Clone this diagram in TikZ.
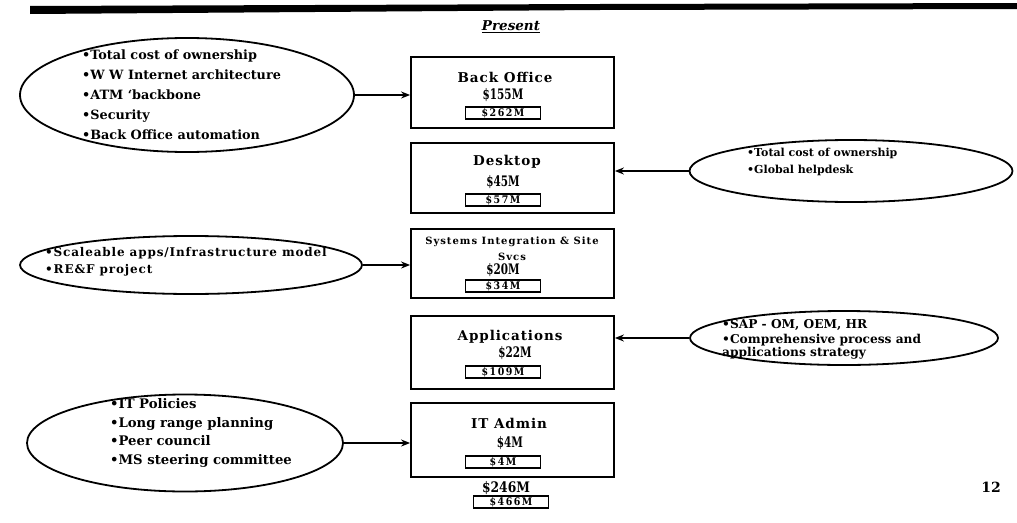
\documentclass[tikz,border=0pt]{standalone}
\usepackage{graphicx}
\usepackage{fontspec}
\setmainfont{DejaVu Serif}
\newfontfamily\numfont{DejaVu Serif Condensed}
\newcommand{\amtxt}[1]{\scalebox{0.72}[1]{#1}}
\newcommand{\totxt}[1]{\scalebox{0.85}[1]{#1}}
\usetikzlibrary{shapes.geometric,arrows.meta}
\begin{document}
\begin{tikzpicture}[x=1pt,y=-1pt,
  font=\bfseries,
  box/.style={draw,line width=1.8pt,minimum width=203pt,inner sep=0pt},
  ttl/.style={font=\fontsize{13.5}{14}\selectfont\bfseries\addfontfeatures{LetterSpace=7},inner sep=0pt},
  amt/.style={font=\fontsize{14.5}{15}\selectfont\bfseries,inner sep=0pt},
  inbox/.style={draw,line width=1.6pt,minimum width=75pt,minimum height=12.5pt,inner sep=0pt,font=\numfont\fontsize{10.5}{10}\selectfont\bfseries\addfontfeatures{LetterSpace=14}},
  oval/.style={draw,ellipse,line width=1.8pt,inner sep=0pt},
  lst/.style={anchor=west,align=left,inner sep=0pt},
  arr/.style={line width=1.8pt,-{Stealth[length=9pt,width=7pt]}}
]
\useasboundingbox (0,0) rectangle (1017,522);

% top rule
\fill (30,6) -- (600,4) -- (1017,3) -- (1017,9) -- (600,10) -- (30,14) -- cycle;

% title
\node[inner sep=0pt,font=\fontsize{13.5}{14}\selectfont\bfseries\itshape] (title) at (511,27) {\underline{Present}};

% boxes
\node[box,minimum height=71pt] (bo) at (512.5,92.5) {};
\node[box,minimum height=70pt] (dt) at (512.5,178) {};
\node[box,minimum height=69pt] (si) at (512.5,263.5) {};
\node[box,minimum height=73pt] (ap) at (512.5,352.5) {};
\node[box,minimum height=74pt] (ia) at (512.5,440) {};

% box texts
\node[ttl] (boT) at (505,77) {Back Office};
\node[amt] (boA) at (503,95) {\amtxt{\$155M}};
\node[inbox] (boI) at (503,113) {\$262M};

\node[ttl] (dtT) at (507,162) {Desktop};
\node[amt] (dtA) at (503,182) {\amtxt{\$45M}};
\node[inbox] (dtI) at (503,200) {\$57M};

\node[inner sep=0pt,align=center,font=\fontsize{10}{16}\selectfont\bfseries\addfontfeatures{LetterSpace=10}] (siT) at (512,249) {Systems Integration \& Site\\Svcs};
\node[amt] (siA) at (503,270) {\amtxt{\$20M}};
\node[inbox] (siI) at (503,286) {\$34M};

\node[ttl] (apT) at (510,337) {Applications};
\node[amt] (apA) at (515,353) {\amtxt{\$22M}};
\node[inbox] (apI) at (503,372) {\$109M};

\node[ttl] (iaT) at (509,423) {IT Admin};
\node[amt] (iaA) at (510,443) {\amtxt{\$4M}};
\node[inbox] (iaI) at (503,462) {\$4M};

\node[amt] (totA) at (506,488) {\totxt{\$246M}};
\node[inbox] (totI) at (511,502) {\$466M};

% ovals
\node[oval,minimum width=334pt,minimum height=114pt] (e1) at (187,95) {};
\node[oval,minimum width=323pt,minimum height=62pt] (e2) at (851,171) {};
\node[oval,minimum width=342pt,minimum height=58pt] (e3) at (191,265) {};
\node[oval,minimum width=308pt,minimum height=54pt] (e4) at (844,338) {};
\node[oval,minimum width=316pt,minimum height=97pt] (e5) at (185,443) {};

% oval texts
\node[lst,font=\fontsize{12.8}{20}\selectfont\bfseries] (t1) at (82,95) {•Total cost of ownership\\•W W Internet architecture\\•ATM `backbone\\•Security\\•Back Office automation};
\node[lst,font=\fontsize{11}{17}\selectfont\bfseries] (t2) at (747,161.5) {•Total cost of ownership\\•Global helpdesk};
\node[lst,font=\fontsize{12}{17}\selectfont\bfseries\addfontfeatures{LetterSpace=7}] (t3) at (45,261.5) {•Scaleable apps/Infrastructure model\\•RE\&F project};
\node[lst,font=\fontsize{12.2}{12}\selectfont\bfseries] (t4a) at (722,325) {•SAP - OM, OEM, HR};
\node[lst,font=\fontsize{12.2}{11.5}\selectfont\bfseries] (t4b) at (722,347) {•Comprehensive process and\\applications strategy};
\node[lst,font=\fontsize{13.2}{18.5}\selectfont\bfseries] (t5) at (110,433) {•IT Policies\\•Long range planning\\•Peer council\\•MS steering committee};

% connectors
\draw[arr] (e1.east) -- (e1.east -| bo.west);
\draw[arr] (e2.west) -- (e2.west -| dt.east);
\draw[arr] (e3.east) -- (e3.east -| si.west);
\draw[arr] (e4.west) -- (e4.west -| ap.east);
\draw[arr] (e5.east) -- (e5.east -| ia.west);

% page number
\node[inner sep=0pt,font=\fontsize{14}{15}\selectfont\bfseries] (pg) at (991,487) {12};
\end{tikzpicture}
\end{document}
